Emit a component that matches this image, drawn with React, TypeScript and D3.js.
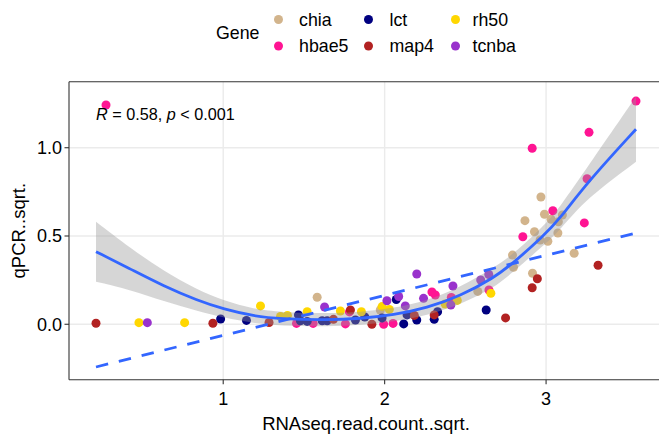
import React from "react";
import * as d3 from "d3";

// ---------- data ----------
const genes = ["chia", "hbae5", "lct", "map4", "rh50", "tcnba"];
const geneColors = ["#D2B48C", "#FF1493", "#000080", "#B22222", "#FFD700", "#9932CC"];

const chiaX = [1.582, 1.973, 2.577, 2.968, 2.990, 3.101, 3.031, 3.076, 2.869, 2.928, 3.073, 2.963, 3.011, 3.174, 2.792, 2.798, 2.916];
const chiaY = [0.153, 0.081, 0.186, 0.721, 0.623, 0.619, 0.595, 0.581, 0.587, 0.524, 0.517, 0.477, 0.470, 0.402, 0.392, 0.323, 0.289];

const hbae5X = [0.274, 3.557, 3.266, 2.914, 3.254, 3.042, 3.237, 2.856, 2.646, 2.293, 2.314, 2.413, 1.454, 1.557, 1.757, 1.782, 1.994, 2.052];
const hbae5Y = [1.242, 1.264, 1.087, 0.997, 0.824, 0.643, 0.574, 0.496, 0.194, 0.183, 0.166, 0.152, 0.005, 0.005, 0.002, 0.070, 0.0, 0.005];

const lctX = [0.984, 1.144, 1.466, 1.478, 1.520, 1.613, 1.644, 1.819, 1.877, 1.984, 2.072, 2.118, 2.139, 2.199, 2.307, 2.328, 2.629];
const lctY = [0.030, 0.022, 0.053, 0.020, 0.016, 0.020, 0.020, 0.024, 0.041, 0.036, 0.140, 0.002, 0.053, 0.024, 0.028, 0.071, 0.081];

const map4X = [0.212, 0.936, 1.284, 1.683, 1.788, 1.921, 2.184, 2.307, 2.749, 2.914, 2.946, 3.322];
const map4Y = [0.006, 0.006, 0.010, 0.028, 0.081, 0.0, 0.050, 0.053, 0.036, 0.207, 0.258, 0.334];

const rh50X = [0.478, 0.761, 1.231, 1.355, 1.398, 1.520, 1.726, 1.856, 1.984, 2.029, 2.375, 2.450, 2.658];
const rh50Y = [0.009, 0.009, 0.104, 0.044, 0.050, 0.071, 0.075, 0.071, 0.100, 0.084, 0.115, 0.135, 0.176];

const tcnbaX = [0.530, 1.628, 2.014, 2.087, 2.128, 2.199, 2.241, 2.410, 2.423, 2.595, 2.645];
const tcnbaY = [0.009, 0.098, 0.133, 0.157, 0.104, 0.285, 0.147, 0.109, 0.217, 0.251, 0.282];

// loess fit with confidence band
const fitX = [0.212, 0.427, 0.633, 0.839, 1.004, 1.19, 1.355, 1.644, 1.85, 2.056, 2.262, 2.468, 2.674, 2.788, 2.984, 3.087, 3.252, 3.557];
const fitY = [0.411, 0.312, 0.215, 0.135, 0.085, 0.046, 0.030, 0.024, 0.032, 0.053, 0.092, 0.16, 0.262, 0.34, 0.50, 0.60, 0.80, 1.105];
const fitLo = [0.241, 0.195, 0.13, 0.075, 0.037, 0.006, -0.008, -0.013, -0.005, 0.015, 0.050, 0.11, 0.205, 0.29, 0.445, 0.535, 0.715, 0.92];
const fitHi = [0.581, 0.43, 0.30, 0.195, 0.133, 0.086, 0.068, 0.061, 0.069, 0.091, 0.134, 0.21, 0.32, 0.39, 0.555, 0.665, 0.885, 1.29];

// linear fit
const lmX = [0.212, 3.557];
const lmY = [-0.242, 0.517];

const xTicks = [1, 2, 3];
const yTicks = [0, 0.5, 1.0];
const yLimits = [-0.314, 1.374];
const xTitle = "RNAseq.read.count..sqrt.";
const yTitle = "qPCR..sqrt.";
const legendTitle = "Gene";

// ---------- layout ----------
const W = 659, H = 435;
const panel = { left: 69, right: 663, top: 81.7, bottom: 379.7 };
const font = "'Liberation Sans', Arial, Helvetica, sans-serif";
const blue = "#3366FF";

export default function App() {
  const seriesX = [chiaX, hbae5X, lctX, map4X, rh50X, tcnbaX];
  const seriesY = [chiaY, hbae5Y, lctY, map4Y, rh50Y, tcnbaY];

  const allX = [...seriesX.flat(), ...fitX, ...lmX];
  const [x0, x1] = d3.extent(allX) as [number, number];
  const ex = (x1 - x0) * 0.05;

  const x = d3.scaleLinear().domain([x0 - ex, x1 + ex]).range([panel.left, panel.right]);
  const y = d3.scaleLinear().domain(yLimits).range([panel.bottom, panel.top]);

  const fitIdx = d3.range(fitX.length);
  const area = d3.area<number>()
    .x(i => x(fitX[i]))
    .y0(i => y(fitLo[i]))
    .y1(i => y(fitHi[i]))
    .curve(d3.curveBasis);
  const line = d3.line<number>()
    .x(i => x(fitX[i]))
    .y(i => y(fitY[i]))
    .curve(d3.curveBasis);
  const lmLine = d3.line<number>().x(i => x(lmX[i])).y(i => y(lmY[i]));

  const legendCols = [278.5, 368.5, 455.5];
  const legendTextCols = [299, 389.5, 472.5];
  const legendRows = [19.5, 46];

  return (
    <svg width={W} height={H} style={{ position: "absolute", left: 0, top: 0, background: "#fff" }} fontFamily={font}>
      <defs>
        <clipPath id="pclip">
          <rect x={panel.left} y={panel.top} width={panel.right - panel.left} height={panel.bottom - panel.top} />
        </clipPath>
      </defs>
      <rect x={0} y={0} width={W} height={H} fill="#fff" />
      {/* grid */}
      {xTicks.map(t => (
        <line key={"gx" + t} x1={x(t)} x2={x(t)} y1={panel.top} y2={panel.bottom} stroke="#EBEBEB" strokeWidth={1.4} />
      ))}
      {yTicks.map(t => (
        <line key={"gy" + t} x1={panel.left} x2={panel.right} y1={y(t)} y2={y(t)} stroke="#EBEBEB" strokeWidth={1.4} />
      ))}
      <g clipPath="url(#pclip)">
        {/* points */}
        {seriesX.map((xs, gi) =>
          xs.map((xv, j) => (
            <circle key={gi + "-" + j} cx={x(xv)} cy={y(seriesY[gi][j])} r={4.5} fill={geneColors[gi]} />
          ))
        )}
        {/* loess band */}
        <path d={area(fitIdx) || ""} fill="#999999" fillOpacity={0.4} />
        <path d={line(fitIdx) || ""} fill="none" stroke={blue} strokeWidth={2.8} />
        <path d={lmLine([0, 1]) || ""} fill="none" stroke={blue} strokeWidth={2.8} strokeDasharray="12.5 11" />
      </g>
      {/* annotation */}
      <text x={96} y={120} fontSize={16.2} fill="#000">
        <tspan fontStyle="italic">R</tspan>
        <tspan> = 0.58, </tspan>
        <tspan fontStyle="italic">p</tspan>
        <tspan> {"<"} 0.001</tspan>
      </text>
      {/* axes */}
      <line x1={panel.left} x2={panel.left} y1={panel.top} y2={panel.bottom} stroke="#333" strokeWidth={1.1} />
      <line x1={panel.left} x2={panel.right} y1={panel.bottom} y2={panel.bottom} stroke="#333" strokeWidth={1.1} />
      <line x1={panel.left} x2={panel.right} y1={panel.top} y2={panel.top} stroke="#333" strokeWidth={1.1} />
      {xTicks.map(t => (
        <g key={"xt" + t}>
          <line x1={x(t)} x2={x(t)} y1={panel.bottom} y2={panel.bottom + 4.5} stroke="#333" strokeWidth={1.1} />
          <text x={x(t)} y={405} textAnchor="middle" fontSize={18} fill="#000">{d3.format("d")(t)}</text>
        </g>
      ))}
      {yTicks.map(t => (
        <g key={"yt" + t}>
          <line x1={panel.left - 4.5} x2={panel.left} y1={y(t)} y2={y(t)} stroke="#333" strokeWidth={1.1} />
          <text x={panel.left - 7} y={y(t) + 6.3} textAnchor="end" fontSize={18} fill="#000">{d3.format(".1f")(t)}</text>
        </g>
      ))}
      <text x={(panel.left + panel.right) / 2 - 0} y={430} textAnchor="middle" fontSize={18.5} fill="#000">{xTitle}</text>
      <text transform={`translate(25,${(panel.top + panel.bottom) / 2}) rotate(-90)`} textAnchor="middle" fontSize={18.5} fill="#000">{yTitle}</text>
      {/* legend */}
      <text x={216} y={39} fontSize={17.8} fill="#000">{legendTitle}</text>
      {genes.map((g, i) => {
        const c = Math.floor(i / 2), r = i % 2;
        return (
          <g key={g}>
            <circle cx={legendCols[c]} cy={legendRows[r]} r={4.5} fill={geneColors[i]} />
            <text x={legendTextCols[c]} y={legendRows[r] + 6.2} fontSize={17.8} fill="#000">{g}</text>
          </g>
        );
      })}
    </svg>
  );
}
